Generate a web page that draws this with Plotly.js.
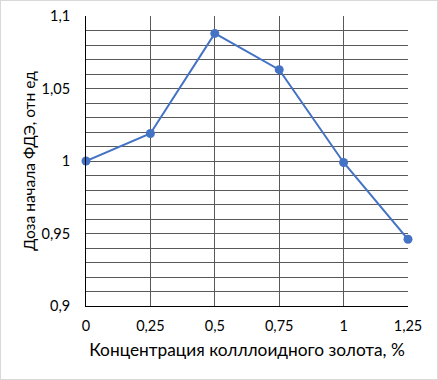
<!DOCTYPE html>
<html><head><meta charset="utf-8">
<script src="https://cdn.plot.ly/plotly-3.0.1.min.js"></script>
<style>
html,body{margin:0;padding:0;background:#fff;}
#wrap{position:relative;width:438px;height:380px;}
#chart{width:438px;height:380px;}
#frame{position:absolute;left:0;top:0;width:436px;height:378px;border:1px solid #d9d9d9;pointer-events:none;}
</style></head>
<body>
<div id="wrap"><div id="chart"></div><div id="frame"></div></div>
<script>
const concentration = [0, 0.25, 0.5, 0.75, 1, 1.25];
const doseStart = [1.000, 1.019, 1.088, 1.063, 0.999, 0.946];
const xTitle = 'Концентрация колллоидного золота, %';
const yTitle = 'Доза начала ФДЭ, отн ед';

const FONT = 'Lato, "Open Sans", sans-serif';
const trace = {
  x: concentration, y: doseStart, type: 'scatter', mode: 'lines+markers',
  line: {color: '#4472C4', width: 2},
  marker: {color: '#4472C4', size: 9},
  cliponaxis: false, hoverinfo: 'none'
};
const layout = {
  width: 438, height: 380,
  margin: {l: 86, r: 30, t: 16, b: 74},
  paper_bgcolor: '#fff', plot_bgcolor: '#fff',
  separators: ', ',
  showlegend: false,
  font: {family: FONT, size: 14.5, color: '#000'},
  xaxis: {
    range: [0, 1.25], tickvals: concentration, ticktext: concentration.map(v => String(v).replace('.', ',')),
    showgrid: true, gridcolor: '#595959', gridwidth: 1,
    showline: true, linecolor: '#000', linewidth: 1,
    zeroline: false, ticks: '', ticklabelstandoff: 7,
    title: {text: xTitle, font: {family: FONT, size: 17.3, color: '#000'}, standoff: 10}
  },
  yaxis: {
    range: [0.9, 1.1], dtick: 0.05, tick0: 0.9,
    showgrid: true, gridcolor: '#595959', gridwidth: 1,
    minor: {dtick: 0.01, showgrid: true, gridcolor: '#595959', gridwidth: 1},
    showline: true, linecolor: '#000', linewidth: 1,
    zeroline: false, ticks: '', ticklabelstandoff: 12,
    title: {text: yTitle, font: {family: FONT, size: 15.5, color: '#000'}, standoff: 2}
  }
};
Plotly.newPlot('chart', [trace], layout, {staticPlot: true});
</script>
</body></html>
